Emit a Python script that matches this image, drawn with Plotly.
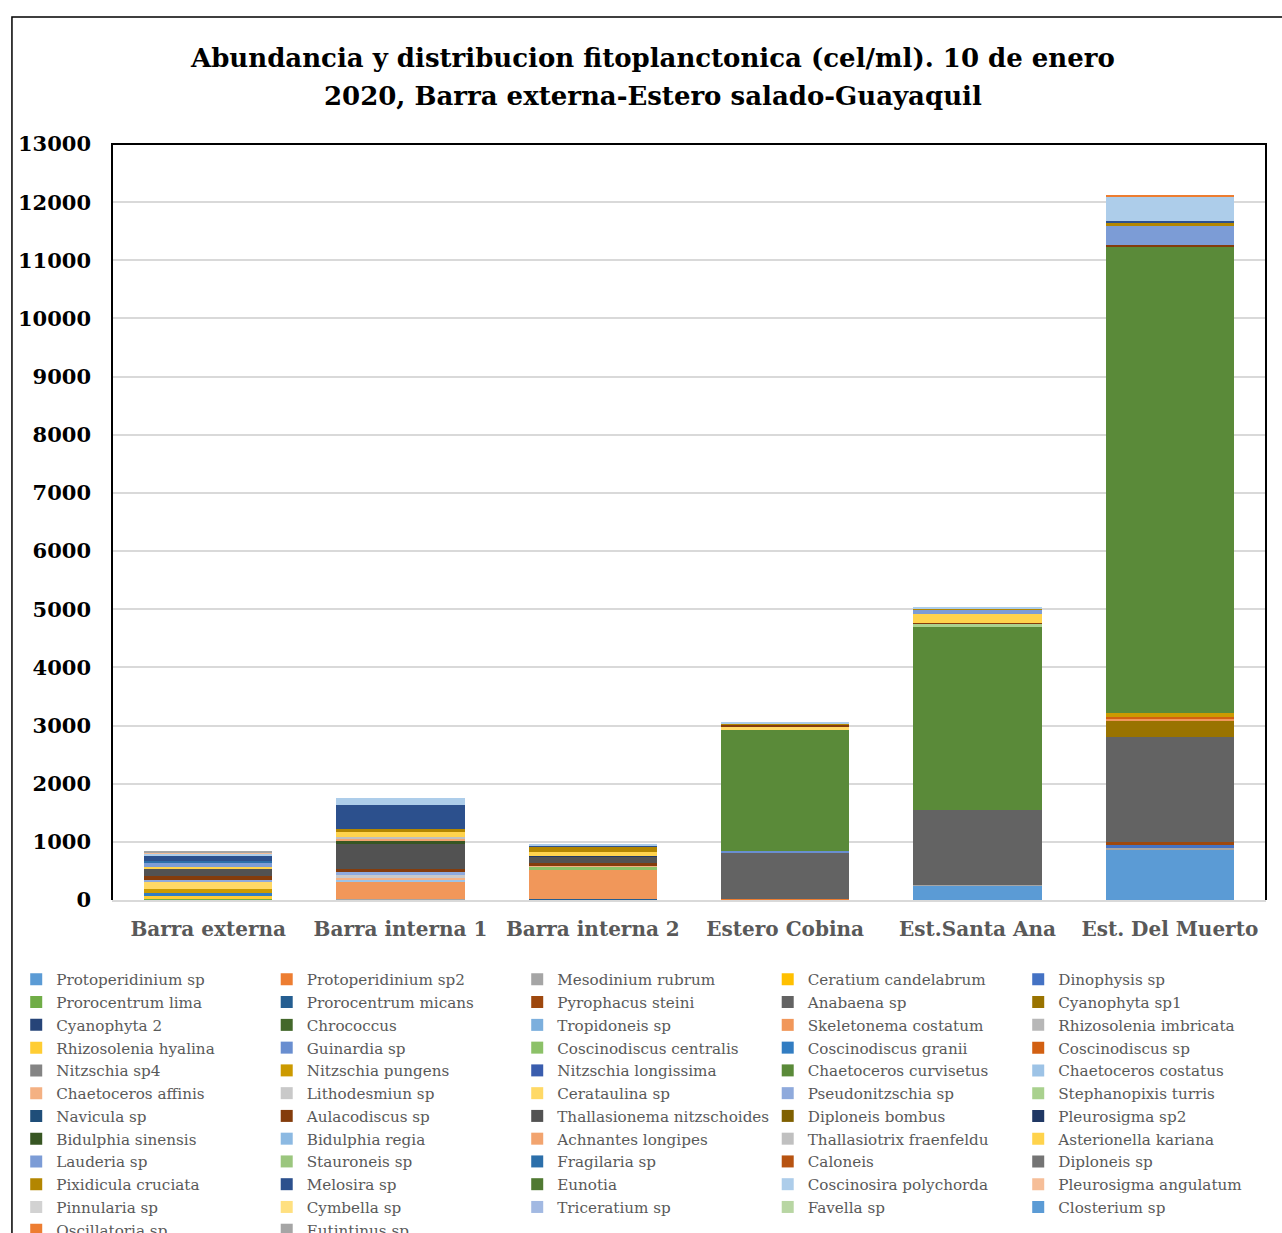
import plotly.graph_objects as go

stations = ["Barra externa", "Barra interna 1", "Barra interna 2",
            "Estero Cobina", "Est.Santa Ana", "Est. Del Muerto"]

species = [
    "Protoperidinium sp", "Protoperidinium sp2", "Mesodinium rubrum", "Ceratium candelabrum", "Dinophysis sp",
    "Prorocentrum lima", "Prorocentrum micans", "Pyrophacus steini", "Anabaena sp", "Cyanophyta sp1",
    "Cyanophyta 2", "Chrococcus", "Tropidoneis sp", "Skeletonema costatum", "Rhizosolenia imbricata",
    "Rhizosolenia hyalina", "Guinardia sp", "Coscinodiscus centralis", "Coscinodiscus granii", "Coscinodiscus sp",
    "Nitzschia sp4", "Nitzschia pungens", "Nitzschia longissima", "Chaetoceros curvisetus", "Chaetoceros costatus",
    "Chaetoceros affinis", "Lithodesmiun sp", "Cerataulina sp", "Pseudonitzschia sp", "Stephanopixis turris",
    "Navicula sp", "Aulacodiscus sp", "Thallasionema nitzschoides", "Diploneis bombus", "Pleurosigma sp2",
    "Bidulphia sinensis", "Bidulphia regia", "Achnantes longipes", "Thallasiotrix fraenfeldu", "Asterionella kariana",
    "Lauderia sp", "Stauroneis sp", "Fragilaria sp", "Caloneis", "Diploneis sp",
    "Pixidicula cruciata", "Melosira sp", "Eunotia", "Coscinosira polychorda", "Pleurosigma angulatum",
    "Pinnularia sp", "Cymbella sp", "Triceratium sp", "Favella sp", "Closterium sp",
    "Oscillatoria sp", "Eutintinus sp",
]

# cel/ml per species (same order as `species`)
barra_externa = [
    0, 0, 0, 0, 0, 25, 0, 0, 0, 0,
    0, 0, 0, 0, 0, 50, 0, 0, 46, 0,
    0, 75, 0, 0, 0, 0, 0, 126, 23, 0,
    0, 75, 120, 0, 0, 0, 0, 0, 0, 23,
    75, 0, 40, 0, 0, 0, 92, 0, 34, 17,
    0, 0, 0, 0, 0, 0, 18,
]
barra_interna_1 = [
    0, 17, 8, 0, 0, 0, 0, 0, 0, 0,
    0, 0, 0, 290, 0, 0, 0, 0, 10, 0,
    0, 0, 0, 0, 12, 40, 50, 0, 49, 0,
    0, 52, 442, 0, 0, 46, 0, 25, 50, 70,
    0, 0, 0, 0, 0, 56, 419, 0, 115, 0,
    0, 0, 0, 0, 0, 0, 0,
]
barra_interna_2 = [
    0, 0, 0, 0, 0, 0, 15, 0, 0, 0,
    0, 0, 0, 502, 0, 0, 0, 51, 0, 0,
    0, 0, 0, 0, 0, 29, 0, 0, 0, 0,
    0, 34, 109, 0, 18, 0, 0, 0, 0, 74,
    0, 0, 0, 0, 0, 86, 18, 0, 11, 0,
    0, 0, 0, 0, 0, 0, 0,
]
estero_cobina = [
    0, 15, 0, 0, 0, 0, 0, 0, 800, 0,
    0, 0, 0, 0, 0, 0, 34, 0, 0, 0,
    0, 0, 0, 2090, 0, 0, 0, 29, 0, 0,
    0, 46, 0, 0, 0, 0, 0, 0, 0, 0,
    0, 0, 0, 0, 0, 28, 0, 0, 17, 0,
    0, 0, 0, 0, 0, 0, 0,
]
est_santa_ana = [
    253, 0, 11, 0, 0, 0, 0, 0, 1280, 0,
    0, 0, 0, 0, 0, 0, 0, 0, 0, 0,
    0, 0, 0, 3146, 0, 0, 0, 0, 0, 57,
    0, 16, 0, 0, 0, 0, 0, 0, 0, 155,
    70, 0, 0, 0, 0, 29, 0, 0, 28, 0,
    0, 0, 0, 0, 0, 0, 0,
]
est_del_muerto = [
    872, 0, 29, 0, 46, 0, 0, 46, 1802, 287,
    0, 0, 0, 41, 0, 0, 0, 0, 0, 28,
    0, 58, 0, 8036, 0, 0, 0, 0, 0, 0,
    0, 11, 0, 0, 0, 0, 0, 0, 0, 0,
    350, 0, 0, 0, 0, 29, 46, 0, 413, 0,
    0, 0, 0, 0, 0, 29, 0,
]

y_ticks = list(range(0, 13001, 1000))
y_tick_text = [str(v) for v in y_ticks]

# Office-style series palette, one colour per species
palette = [
    "#5B9BD5", "#ED7D31", "#A5A5A5", "#FFC000", "#4472C4", "#70AD47",
    "#255E91", "#9E480E", "#636363", "#997300", "#264478", "#43682B",
    "#7CAFDD", "#F1975A", "#B7B7B7", "#FFCD33", "#698ED0", "#8CC168",
    "#327DC2", "#D26012", "#848484", "#CC9A00", "#3A5DAE", "#5A8A39",
    "#9DC3E6", "#F4B183", "#C9C9C9", "#FFD966", "#8FAADC", "#A9D18E",
    "#1F4E79", "#843C0C", "#525252", "#7F6000", "#203864", "#375623",
    "#8CB9E2", "#F2A46F", "#C0C0C0", "#FFD34C", "#7C9CD6", "#9BC67E",
    "#2C6FAA", "#B75311", "#747474", "#B38600", "#2C508D", "#507932",
    "#ADCDEA", "#F6BE98", "#D2D2D2", "#FFE080", "#A2B9E2", "#B8D6A3",
    "#5B9BD5", "#ED7D31", "#A5A5A5",
]

by_station = [barra_externa, barra_interna_1, barra_interna_2,
              estero_cobina, est_santa_ana, est_del_muerto]

SERIF = "DejaVu Serif"

fig = go.Figure()
for i, name in enumerate(species):
    fig.add_trace(go.Bar(
        name=name,
        x=stations,
        y=[col[i] for col in by_station],
        marker=dict(color=palette[i], line=dict(width=0)),
    ))

fig.update_layout(
    width=1282, height=1233,
    paper_bgcolor="white", plot_bgcolor="white",
    barmode="stack", bargap=0.334,
    margin=dict(l=112, r=16, t=144, b=333, autoexpand=False),
    showlegend=True,
    legend=dict(
        orientation="h", traceorder="normal",
        x=-0.083, y=-0.0833, xanchor="left", yanchor="top",
        entrywidth=205.5, entrywidthmode="pixels",
        font=dict(family=SERIF, size=15.2, color="#595959"),
        bgcolor="rgba(0,0,0,0)",
    ),
    font=dict(family=SERIF),
)

fig.update_yaxes(
    range=[0, 13000], tickvals=y_ticks, ticktext=y_tick_text,
    showgrid=True, gridcolor="#D9D9D9", gridwidth=2,
    zeroline=False, showline=False,
    tickfont=dict(family=SERIF, size=21, color="#000000", weight="bold"),
    ticklabelstandoff=20,
)
fig.update_xaxes(
    showline=True, linecolor="#D9D9D9", linewidth=2,
    tickfont=dict(family=SERIF, size=20, color="#595959", weight="bold"),
    ticklabelstandoff=10,
)

# plot-area frame (left, top, right) and outer chart border
fig.add_shape(type="path", xref="paper", yref="paper",
              path="M 0,0 L 0,1 L 1,1 L 1,0",
              line=dict(color="#000000", width=2), layer="above")
fig.add_shape(type="rect", xref="paper", yref="paper",
              x0=-0.0867, x1=1.2, y0=-1.0, y1=1.168,
              line=dict(color="#000000", width=1.5), layer="above")

title_lines = ["Abundancia y distribucion fitoplanctonica (cel/ml). 10 de enero",
               "2020, Barra externa-Estero salado-Guayaquil"]
for line, yy in zip(title_lines, [1.1138, 1.0635]):
    fig.add_annotation(text=line, xref="paper", yref="paper",
                       x=0.4688, y=yy, xanchor="center", yanchor="middle",
                       showarrow=False,
                       font=dict(family=SERIF, size=26, color="#000000", weight="bold"))

fig.write_html("out.html")
